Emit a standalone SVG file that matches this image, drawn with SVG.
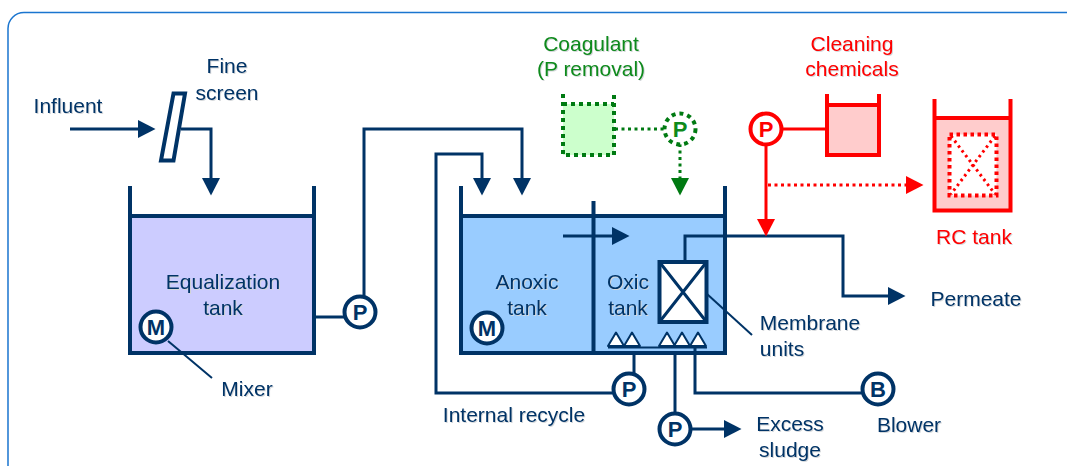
<svg xmlns="http://www.w3.org/2000/svg" width="1067" height="466" viewBox="0 0 1067 466">
<style>
text{font-family:"Liberation Sans",Arial,sans-serif;font-size:21px;text-anchor:middle;fill:#003366;filter:drop-shadow(1px 1px 0 #d4d7da)}
.g text,text.g{fill:#0e8a1c}
.r text,text.r{fill:#ff0000}
.l{fill:none;stroke:#003366;stroke-width:3}
.w{fill:none;stroke:#003366;stroke-width:4}
.c{fill:#fff;stroke:#003366;stroke-width:4}
text.p{font-weight:bold;font-size:22px;filter:none}
.na{marker-end:url(#an)}
.ga{marker-end:url(#ag)}
.ra{marker-end:url(#ar)}
.gd{fill:none;stroke:#007a12;stroke-width:3;stroke-dasharray:3 3.500}
.rs{fill:none;stroke:#ff0000;stroke-width:3}
.rd{fill:none;stroke:#ff0000;stroke-width:3;stroke-dasharray:3 3.500}
</style>
<defs>
<marker id="an" markerUnits="userSpaceOnUse" markerWidth="18" markerHeight="18" refX="8" refY="9" orient="auto"><path d="M0 0L17.500 9L0 18Z" fill="#003366"/></marker>
<marker id="ag" markerUnits="userSpaceOnUse" markerWidth="18" markerHeight="18" refX="8" refY="9" orient="auto"><path d="M0 0L17.500 9L0 18Z" fill="#007a12"/></marker>
<marker id="ar" markerUnits="userSpaceOnUse" markerWidth="18" markerHeight="18" refX="8" refY="9" orient="auto"><path d="M0 0L17.500 9L0 18Z" fill="#ff0000"/></marker>
</defs>
<path id="panel" d="M1067 12.500H24A16 16 0 0 0 8 28.500V466" fill="none" stroke="#1a75cf" stroke-width="1.500"/>

<g id="equalization-tank">
<rect x="130" y="216" width="184" height="137" fill="#ccccff"/>
<path class="w" d="M130 186V353H314V186M130 216H314"/>
<text x="223" y="289">Equalization</text>
<text x="223" y="315">tank</text>
</g>
<g id="anoxic-oxic-tank">
<rect x="461" y="216" width="264" height="137" fill="#99ccff"/>
<path class="w" d="M461 186V353H725V186M461 216H725M593.500 201V354"/>
<text x="527" y="289">Anoxic</text>
<text x="527" y="315">tank</text>
<text x="628" y="289">Oxic</text>
<text x="628" y="315">tank</text>
</g>

<g id="connectors">
<path class="l na" d="M70 129H146"/>
<path class="l na" d="M181 129H211V186"/>
<path class="l" d="M314 317H345"/>
<path class="l na" d="M364 297V129H522V186"/>
<path class="l na" d="M614 393H436V154H482V186"/>
<path class="l na" d="M563 236H620"/>
<path class="l na" d="M685 261V236H843V296H896"/>
<path class="l" d="M608 347.500H707" style="stroke-width:2"/>
<path class="l" d="M634 353V375"/>
<path class="l" d="M675 353V414"/>
<path class="l na" d="M690 429H732"/>
<path class="l" d="M695 347V393H863"/>
<path class="l" d="M168 341L212 378" style="stroke-width:2"/>
<path class="l" d="M707 294L752 335" style="stroke-width:2"/>
<path class="gd" d="M615 129H665"/>
<path class="gd ga" d="M680 144V186"/>
<path class="rs" d="M781 129H826"/>
<path class="rs ra" d="M766 144V227"/>
<path class="rd ra" d="M768 185H914"/>
</g>

<g id="fine-screen">
<path d="M173.500 93.500H185L173.500 160.500H161Z" fill="#fff" stroke="#003366" stroke-width="4"/>
<text x="227" y="73">Fine</text>
<text x="227" y="100">screen</text>
</g>
<g id="influent"><text x="68" y="113">Influent</text></g>
<g id="mixer-1"><circle class="c" cx="156" cy="327" r="15.500"/><text class="p" x="156" y="335">M</text></g>
<g id="mixer-label"><text x="247" y="396">Mixer</text></g>
<g id="pump-1"><circle class="c" cx="360" cy="312" r="15.500"/><text class="p" x="360" y="320">P</text></g>
<g id="mixer-2"><circle class="c" cx="487" cy="328" r="15.500"/><text class="p" x="487" y="336">M</text></g>
<g id="membrane-units">
<rect x="659.500" y="262" width="47" height="60" fill="#fff" stroke="#003366" stroke-width="4"/>
<path class="l" d="M661 264L705 320M705 264L661 320"/>
<text x="810" y="330">Membrane</text>
<text x="782" y="356">units</text>
</g>
<g id="aerators" fill="#fff" stroke="#003366" stroke-width="2" stroke-linejoin="round">
<path d="M608 346L616 332.500L624 346ZM624 346L632 332.500L640 346ZM659 346L667 332.500L675 346ZM674 346L682 332.500L690 346ZM690 346L698 332.500L706 346Z"/>
</g>
<g id="pump-recycle"><circle class="c" cx="629" cy="389" r="15.500"/><text class="p" x="629" y="397">P</text></g>
<g id="internal-recycle"><text x="514" y="422">Internal recycle</text></g>
<g id="pump-sludge"><circle class="c" cx="675" cy="429" r="15.500"/><text class="p" x="675" y="437">P</text></g>
<g id="excess-sludge"><text x="790" y="431">Excess</text><text x="790" y="457">sludge</text></g>
<g id="blower"><circle class="c" cx="878" cy="389" r="15.500"/><text class="p" x="878" y="397">B</text><text x="909" y="432">Blower</text></g>
<g id="permeate"><text x="976" y="306">Permeate</text></g>

<g id="coagulant" class="g">
<rect x="563" y="104" width="51" height="51" fill="#ccffcc"/>
<path d="M563 94V155H614V94M563 104H614" fill="none" stroke="#007a12" stroke-width="4" stroke-dasharray="4 4"/>
<text x="591" y="51">Coagulant</text>
<text x="591" y="76">(P removal)</text>
</g>
<g id="pump-coagulant" class="g">
<circle cx="680" cy="129" r="15.500" fill="#fff" stroke="#007a12" stroke-width="4" stroke-dasharray="4 4"/>
<text class="p g" x="680" y="137">P</text>
</g>
<g id="cleaning-chemicals" class="r">
<rect x="827" y="105" width="52" height="50" fill="#ffcccc"/>
<path d="M827 94V155H879V94M827 105H879" fill="none" stroke="#ff0000" stroke-width="4"/>
<text x="852" y="51">Cleaning</text>
<text x="852" y="76">chemicals</text>
</g>
<g id="pump-cleaning" class="r">
<circle cx="766" cy="129" r="15.500" fill="#fff" stroke="#ff0000" stroke-width="4"/>
<text class="p r" x="766" y="137">P</text>
</g>
<g id="rc-tank" class="r">
<rect x="934" y="118" width="77" height="93" fill="#ffcccc"/>
<path d="M934.500 99V210.500H1010.500V99M934.500 118H1010.500" fill="none" stroke="#ff0000" stroke-width="4"/>
<rect x="949.500" y="134.500" width="47" height="61" fill="#ffffff" stroke="#ff0000" stroke-width="4" stroke-dasharray="3.500 3.500"/>
<path class="rd" d="M951 136L995 194M995 136L951 194" style="stroke-width:3;stroke-dasharray:2.500 3.500"/>
<text x="974" y="244">RC tank</text>
</g>
</svg>
